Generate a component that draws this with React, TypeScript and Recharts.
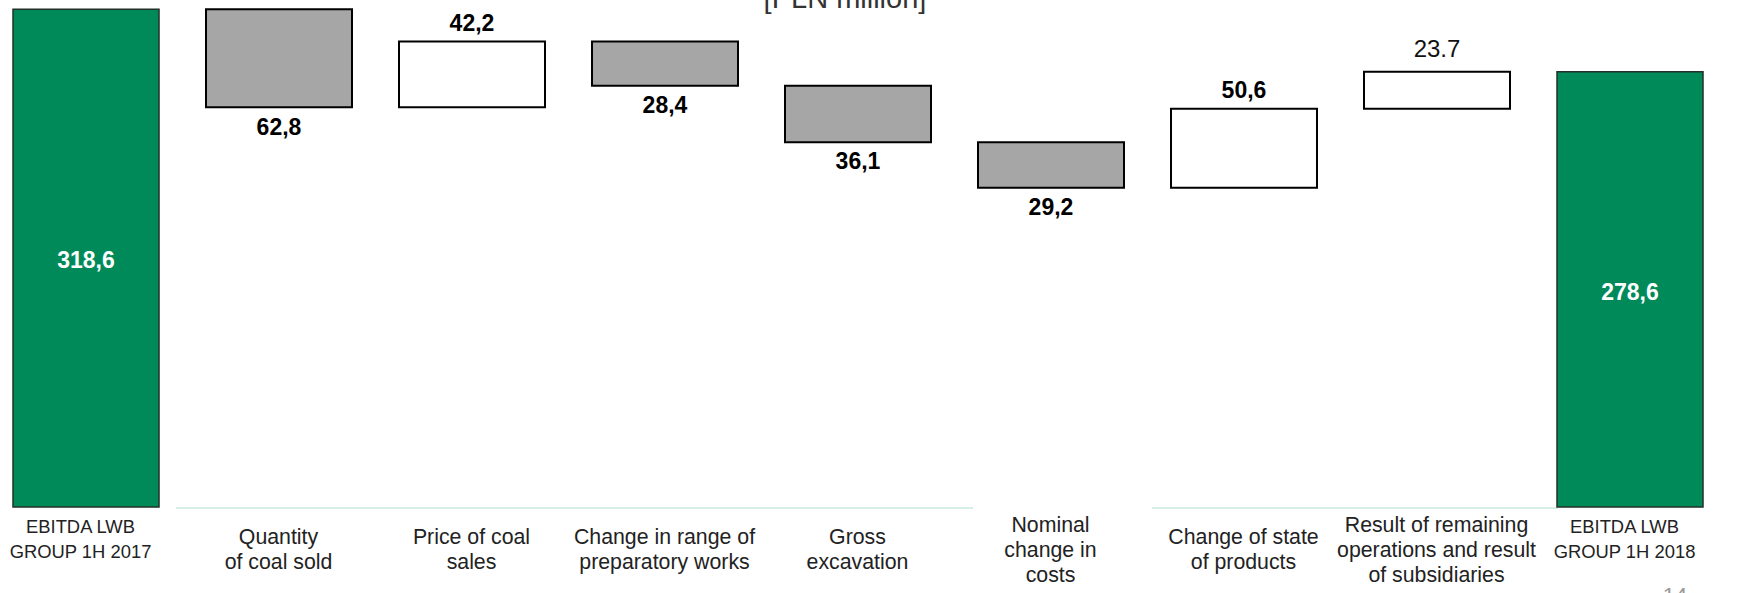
import { Bar, BarChart, Cell, LabelList, XAxis, YAxis } from "recharts";

const categories = [
  "EBITDA LWB\nGROUP 1H 2017",
  "Quantity\nof coal sold",
  "Price of coal\nsales",
  "Change in range of\npreparatory works",
  "Gross\nexcavation",
  "Nominal\nchange in\ncosts",
  "Change of state\nof products",
  "Result of remaining\noperations and result\nof subsidiaries",
  "EBITDA LWB\nGROUP 1H 2018",
];
// first and last entries are totals, the rest are changes
const changes = [318.6, -62.8, 42.2, -28.4, -36.1, -29.2, 50.6, 23.7, 278.6];
const valueLabels = ["318,6", "62,8", "42,2", "28,4", "36,1", "29,2", "50,6", "23.7", "278,6"];

const FONT = '"Liberation Sans", Arial, sans-serif';
const GREEN = "#008a5a";
const GREY = "#a6a6a6";
const plainLabels = ["23.7"];

const isTotal = (i: number) => i === 0 || i === categories.length - 1;

let running = 0;
const rows = categories.map((name, i) => {
  const v = changes[i];
  let base = 0;
  let size = 0;
  let kind = "up";
  if (isTotal(i)) {
    size = v;
    running = v;
    kind = "total";
  } else if (v < 0) {
    running += v;
    base = running;
    size = -v;
    kind = "down";
  } else {
    base = running;
    size = v;
    running += v;
  }
  return { name, base, size, kind, label: valueLabels[i] };
});

function ValueLabel(props: any) {
  const { x, y, width, height, index } = props;
  const row = rows[index];
  if (!row) return null;
  const cx = x + width / 2;
  const plain = plainLabels.includes(row.label);
  let cy = y - (plain ? 23 : 19);
  let fill = "#000";
  if (row.kind === "total") {
    cy = y + height / 2 + 2;
    fill = "#fff";
  } else if (row.kind === "down") {
    cy = y + height + 19;
  }
  return (
    <text
      x={cx}
      y={cy}
      dy="0.36em"
      textAnchor="middle"
      fontFamily={FONT}
      fontSize={plain ? 24 : 23}
      fontWeight={plain ? 400 : 700}
      fill={plain ? "#111" : fill}
    >
      {row.label}
    </text>
  );
}

function CategoryTick(props: any) {
  const { x, y, payload } = props;
  const idx = categories.indexOf(payload.value);
  const lines = String(payload.value).split("\n");
  const total = isTotal(idx);
  const fontSize = total ? 18.4 : 21.3;
  const lineH = total ? 24.5 : 25;
  const center = total ? 32 : 42;
  const first = center - ((lines.length - 1) * lineH) / 2;
  const shift = total ? -5 : 0;
  return (
    <text textAnchor="middle" fill="#222" fontFamily={FONT} fontSize={fontSize}>
      {lines.map((line, i) => (
        <tspan key={i} x={x + shift} y={y + first + i * lineH} dy="0.36em">
          {line}
        </tspan>
      ))}
    </text>
  );
}

export default function App() {
  return (
    <div
      style={{
        position: "fixed",
        left: 0,
        top: 0,
        width: 1740,
        height: 593,
        overflow: "hidden",
        background: "#fff",
        fontFamily: FONT,
      }}
    >
      <div
        style={{
          position: "absolute",
          top: -16,
          left: 0,
          width: 1690,
          textAlign: "center",
          fontSize: 29,
          lineHeight: "29px",
          color: "#333",
        }}
      >
        [PLN million]
      </div>
      <div style={{ position: "absolute", left: 176, top: 507, width: 797, height: 2, background: "#d6efe5" }} />
      <div style={{ position: "absolute", left: 1152, top: 507, width: 406, height: 2, background: "#d6efe5" }} />
      <div style={{ position: "absolute", left: -11, top: 0 }}>
        <BarChart
          width={1737}
          height={593}
          data={rows}
          margin={{ top: 7, right: 0, bottom: 0, left: 0 }}
          barSize={146}
        >
          <XAxis
            dataKey="name"
            interval={0}
            height={86}
            axisLine={false}
            tickLine={false}
            tickSize={0}
            tickMargin={0}
            tick={<CategoryTick />}
          />
          <YAxis hide domain={[0, 320]} />
          <Bar dataKey="base" stackId="w" fill="transparent" isAnimationActive={false} />
          <Bar dataKey="size" stackId="w" isAnimationActive={false}>
            {rows.map((r, i) => (
              <Cell
                key={i}
                fill={r.kind === "total" ? GREEN : r.kind === "down" ? GREY : "#fff"}
                stroke={r.kind === "total" ? "#233029" : "#000"}
                strokeWidth={r.kind === "total" ? 1.5 : 2}
              />
            ))}
            <LabelList dataKey="label" content={<ValueLabel />} />
          </Bar>
        </BarChart>
      </div>
      <div
        style={{
          position: "absolute",
          left: 1650,
          top: 585,
          width: 50,
          textAlign: "center",
          fontSize: 22,
          lineHeight: "22px",
          color: "#999",
        }}
      >
        14
      </div>
    </div>
  );
}
